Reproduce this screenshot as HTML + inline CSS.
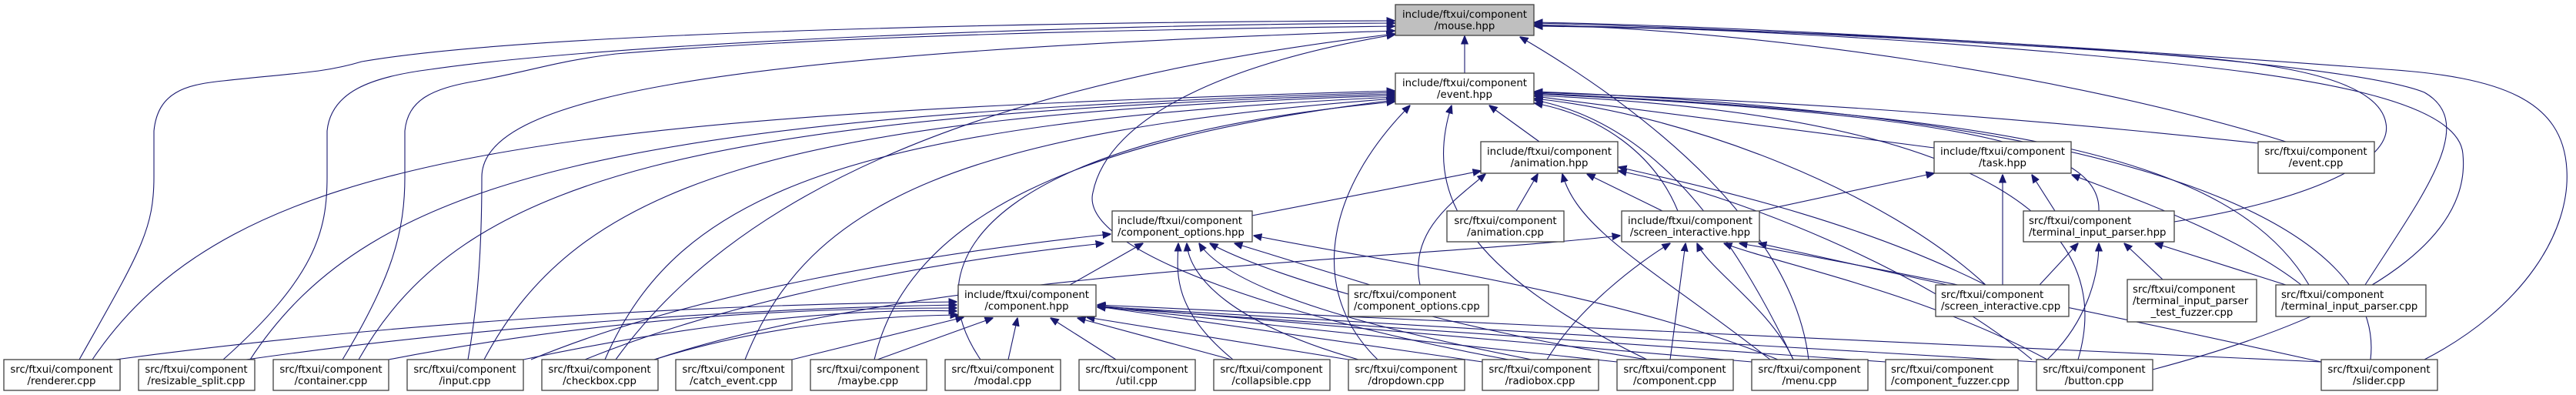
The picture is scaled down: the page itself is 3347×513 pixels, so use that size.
<!DOCTYPE html>
<html><head><meta charset="utf-8"><style>
html,body{margin:0;padding:0;background:#fff;}
svg{display:block;}
text{font-family:"DejaVu Sans","Liberation Sans",sans-serif;font-size:13.3px;fill:#000;}
.b{fill:#fff;stroke:#404040;stroke-width:1.3;}
.e path{fill:none;stroke:#191970;stroke-width:1.1;}
</style></head><body>
<svg width="3347" height="513" viewBox="0 0 3347 513" xmlns="http://www.w3.org/2000/svg">
<defs><marker id="a" viewBox="0 0 10 10" refX="9.5" refY="5" markerWidth="11" markerHeight="11" markerUnits="userSpaceOnUse" orient="auto"><path d="M0,1 L10,5 L0,9z" fill="#191970" stroke="#191970"/></marker></defs>
<g class="e" marker-end="url(#a)">
<!-- to mouse -->
<path marker-end="url(#a)" d="M1903,95 L1903,47"/>
<path marker-end="url(#a)" d="M103,467 C180,330 200,300 200,230 L200,170 C205,120 240,110 290,105 C380,95 420,95 470,80 C700,40 1400,28 1812,27"/>
<path marker-end="url(#a)" d="M290,467 C410,360 425,300 425,230 L425,170 C430,120 480,100 560,90 C800,55 1400,32 1812,30"/>
<path marker-end="url(#a)" d="M445,467 C510,360 526,300 526,230 L526,170 C530,130 560,115 620,105 C700,90 720,80 800,70 C1100,45 1500,38 1812,34"/>
<path marker-end="url(#a)" d="M608,467 C620,400 626,330 626,230 C626,130 900,70 1812,40"/>
<path marker-end="url(#a)" d="M800,467 C950,260 1250,110 1812,44"/>
<path marker-end="url(#a)" d="M1960,467 C1700,420 1400,330 1420,250 C1440,150 1600,80 1812,45"/>
<path marker-end="url(#a)" d="M2970,184 C2700,100 2300,40 1994,32"/>
<path marker-end="url(#a)" d="M2825,288 C3000,260 3110,210 3100,160 C3090,100 2950,80 2800,70 C2500,50 2200,35 1994,30"/>
<path marker-end="url(#a)" d="M3073,370 C3150,250 3220,160 3150,120 C3050,80 2500,40 1994,34"/>
<path marker-end="url(#a)" d="M3150,467 C3280,400 3340,300 3335,220 C3330,130 3250,100 3100,90 C2700,60 2300,35 1994,29"/>
<path marker-end="url(#a)" d="M2797,480 C3100,400 3210,300 3200,200 C3195,130 3000,100 2800,80 C2500,50 2200,35 1994,33"/>
<path marker-end="url(#a)" d="M2350,467 C2330,300 2150,150 1975,48"/>
<!-- to event -->
<path marker-end="url(#a)" d="M120,467 C300,200 700,150 1812,118"/>
<path marker-end="url(#a)" d="M325,467 C480,230 800,150 1812,120"/>
<path marker-end="url(#a)" d="M466,467 C600,230 900,150 1812,122"/>
<path marker-end="url(#a)" d="M629,467 C750,240 1000,150 1812,124"/>
<path marker-end="url(#a)" d="M786,467 C880,250 1100,160 1812,126"/>
<path marker-end="url(#a)" d="M968,467 C1050,260 1250,170 1812,128"/>
<path marker-end="url(#a)" d="M1136,467 C1180,280 1400,180 1812,130"/>
<path marker-end="url(#a)" d="M1274,467 C1180,330 1300,180 1812,132"/>
<path marker-end="url(#a)" d="M1790,467 C1700,380 1720,250 1832,137"/>
<path marker-end="url(#a)" d="M2140,467 C1900,350 1850,250 1886,137"/>
<path marker-end="url(#a)" d="M2000,184 L1935,137"/>
<path marker-end="url(#a)" d="M2513,192 L1994,125"/>
<path marker-end="url(#a)" d="M2934,186 C2600,150 2300,130 1994,120"/>
<path marker-end="url(#a)" d="M2180,274 C2150,200 2080,150 1994,134"/>
<path marker-end="url(#a)" d="M2727,274 C2730,200 2600,150 1994,122"/>
<path marker-end="url(#a)" d="M2580,370 C2450,250 2200,150 1994,128"/>
<path marker-end="url(#a)" d="M3000,370 C2900,200 2600,150 1994,121"/>
<path marker-end="url(#a)" d="M2700,467 C2750,300 2600,150 1994,124"/>
<path marker-end="url(#a)" d="M3080,467 C3100,300 2800,150 1994,119"/>
<path marker-end="url(#a)" d="M2330,467 C2250,300 2150,160 1994,130"/>
<!-- to animation -->
<path marker-end="url(#a)" d="M1627,280 L1924,222"/>
<path marker-end="url(#a)" d="M1970,274 L1998,226"/>
<path marker-end="url(#a)" d="M2160,274 L2062,226"/>
<path marker-end="url(#a)" d="M1845,370 C1830,300 1890,260 1930,226"/>
<path marker-end="url(#a)" d="M2300,467 C2150,350 2050,300 2030,226"/>
<path marker-end="url(#a)" d="M2580,370 C2400,280 2200,240 2103,217"/>
<path marker-end="url(#a)" d="M2640,467 C2500,350 2250,250 2103,222"/>
<!-- to component_options -->
<path marker-end="url(#a)" d="M1390,370 L1485,316"/>
<path marker-end="url(#a)" d="M690,467 C900,380 1200,330 1443,304"/>
<path marker-end="url(#a)" d="M760,467 C1000,370 1300,330 1434,316"/>
<path marker-end="url(#a)" d="M1602,467 C1520,400 1530,350 1531,316"/>
<path marker-end="url(#a)" d="M1765,467 C1600,420 1545,360 1542,316"/>
<path marker-end="url(#a)" d="M1990,467 C1800,430 1600,380 1558,316"/>
<path marker-end="url(#a)" d="M2140,467 C1900,430 1650,360 1572,316"/>
<path marker-end="url(#a)" d="M1780,370 L1604,316"/>
<path marker-end="url(#a)" d="M2310,467 C2100,380 1800,340 1629,306"/>
<!-- to component.hpp -->
<path marker-end="url(#a)" d="M150,467 C500,420 900,395 1243,392"/>
<path marker-end="url(#a)" d="M320,467 C650,420 1000,400 1243,396"/>
<path marker-end="url(#a)" d="M505,467 C800,410 1050,400 1243,400"/>
<path marker-end="url(#a)" d="M680,467 C900,420 1100,400 1243,404"/>
<path marker-end="url(#a)" d="M850,467 C1000,420 1150,410 1245,409"/>
<path marker-end="url(#a)" d="M1029,467 L1252,412"/>
<path marker-end="url(#a)" d="M1140,467 L1290,413"/>
<path marker-end="url(#a)" d="M1310,467 L1322,413"/>
<path marker-end="url(#a)" d="M1450,467 L1365,413"/>
<path marker-end="url(#a)" d="M1600,467 L1400,413"/>
<path marker-end="url(#a)" d="M1752,467 L1412,412"/>
<path marker-end="url(#a)" d="M1926,470 L1426,398"/>
<path marker-end="url(#a)" d="M2101,470 L1426,398"/>
<path marker-end="url(#a)" d="M2276,470 L1426,397"/>
<path marker-end="url(#a)" d="M2450,470 L1426,399"/>
<path marker-end="url(#a)" d="M2646,470 L1426,398"/>
<path marker-end="url(#a)" d="M3016,470 L1426,396"/>
<!-- to screen_interactive.hpp -->
<path marker-end="url(#a)" d="M850,467 C1200,350 1800,340 2105,306"/>
<path marker-end="url(#a)" d="M2010,467 C2050,400 2130,340 2170,316"/>
<path marker-end="url(#a)" d="M2170,467 L2190,316"/>
<path marker-end="url(#a)" d="M2330,467 C2300,400 2220,350 2205,316"/>
<path marker-end="url(#a)" d="M2660,467 C2500,380 2300,340 2240,316"/>
<path marker-end="url(#a)" d="M3016,470 C2700,400 2400,340 2260,316"/>
<path marker-end="url(#a)" d="M2530,370 L2285,316"/>
<!-- to task -->
<path marker-end="url(#a)" d="M2286,274 L2513,225"/>
<path marker-end="url(#a)" d="M2602,370 L2602,227"/>
<path marker-end="url(#a)" d="M2670,274 L2640,227"/>
<path marker-end="url(#a)" d="M2990,370 C2900,300 2750,250 2692,227"/>
<!-- to terminal_input_parser.hpp -->
<path marker-end="url(#a)" d="M2650,370 L2700,316"/>
<path marker-end="url(#a)" d="M2810,363 L2760,316"/>
<path marker-end="url(#a)" d="M2970,370 L2800,316"/>
<path marker-end="url(#a)" d="M2660,467 C2710,420 2727,360 2727,316"/>
</g>
<!-- nodes -->
<rect x="1813" y="6" width="180" height="40" fill="#bfbfbf" stroke="#404040" stroke-width="1.3"/>
<text x="1903" y="23" text-anchor="middle">include/ftxui/component</text><text x="1903" y="38" text-anchor="middle">/mouse.hpp</text>
<rect class="b" x="1813" y="95" width="180" height="40"/>
<text x="1903" y="112" text-anchor="middle">include/ftxui/component</text><text x="1903" y="127" text-anchor="middle">/event.hpp</text>
<rect class="b" x="1924" y="184" width="178" height="41"/>
<text x="2013" y="201" text-anchor="middle">include/ftxui/component</text><text x="2013" y="216" text-anchor="middle">/animation.hpp</text>
<rect class="b" x="2513" y="184" width="178" height="41"/>
<text x="2602" y="201" text-anchor="middle">include/ftxui/component</text><text x="2602" y="216" text-anchor="middle">/task.hpp</text>
<rect class="b" x="2934" y="184" width="151" height="41"/>
<text x="3009" y="201" text-anchor="middle">src/ftxui/component</text><text x="3009" y="216" text-anchor="middle">/event.cpp</text>
<rect class="b" x="1445" y="274" width="182" height="40"/>
<text x="1452" y="291">include/ftxui/component</text><text x="1452" y="306">/component_options.hpp</text>
<rect class="b" x="1880" y="274" width="152" height="40"/>
<text x="1956" y="291" text-anchor="middle">src/ftxui/component</text><text x="1956" y="306" text-anchor="middle">/animation.cpp</text>
<rect class="b" x="2107" y="274" width="179" height="40"/>
<text x="2196" y="291" text-anchor="middle">include/ftxui/component</text><text x="2196" y="306" text-anchor="middle">/screen_interactive.hpp</text>
<rect class="b" x="2629" y="274" width="196" height="40"/>
<text x="2636" y="291">src/ftxui/component</text><text x="2636" y="306">/terminal_input_parser.hpp</text>
<rect class="b" x="1245" y="370" width="179" height="41"/>
<text x="1334" y="387" text-anchor="middle">include/ftxui/component</text><text x="1334" y="402" text-anchor="middle">/component.hpp</text>
<rect class="b" x="1752" y="370" width="182" height="41"/>
<text x="1759" y="387">src/ftxui/component</text><text x="1759" y="402">/component_options.cpp</text>
<rect class="b" x="2515" y="370" width="173" height="41"/>
<text x="2522" y="387">src/ftxui/component</text><text x="2522" y="402">/screen_interactive.cpp</text>
<rect class="b" x="2764" y="363" width="168" height="55"/>
<text x="2771" y="380">src/ftxui/component</text><text x="2771" y="395">/terminal_input_parser</text><text x="2848" y="410" text-anchor="middle">_test_fuzzer.cpp</text>
<rect class="b" x="2957" y="370" width="195" height="41"/>
<text x="2964" y="387">src/ftxui/component</text><text x="2964" y="402">/terminal_input_parser.cpp</text>
<!-- bottom row -->
<g>
<rect class="b" x="5" y="467" width="151" height="40"/><text x="80" y="484" text-anchor="middle">src/ftxui/component</text><text x="80" y="499" text-anchor="middle">/renderer.cpp</text>
<rect class="b" x="180" y="467" width="151" height="40"/><text x="255" y="484" text-anchor="middle">src/ftxui/component</text><text x="255" y="499" text-anchor="middle">/resizable_split.cpp</text>
<rect class="b" x="355" y="467" width="150" height="40"/><text x="430" y="484" text-anchor="middle">src/ftxui/component</text><text x="430" y="499" text-anchor="middle">/container.cpp</text>
<rect class="b" x="529" y="467" width="151" height="40"/><text x="604" y="484" text-anchor="middle">src/ftxui/component</text><text x="604" y="499" text-anchor="middle">/input.cpp</text>
<rect class="b" x="704" y="467" width="151" height="40"/><text x="779" y="484" text-anchor="middle">src/ftxui/component</text><text x="779" y="499" text-anchor="middle">/checkbox.cpp</text>
<rect class="b" x="878" y="467" width="151" height="40"/><text x="953" y="484" text-anchor="middle">src/ftxui/component</text><text x="953" y="499" text-anchor="middle">/catch_event.cpp</text>
<rect class="b" x="1053" y="467" width="151" height="40"/><text x="1128" y="484" text-anchor="middle">src/ftxui/component</text><text x="1128" y="499" text-anchor="middle">/maybe.cpp</text>
<rect class="b" x="1228" y="467" width="150" height="40"/><text x="1303" y="484" text-anchor="middle">src/ftxui/component</text><text x="1303" y="499" text-anchor="middle">/modal.cpp</text>
<rect class="b" x="1402" y="467" width="151" height="40"/><text x="1477" y="484" text-anchor="middle">src/ftxui/component</text><text x="1477" y="499" text-anchor="middle">/util.cpp</text>
<rect class="b" x="1577" y="467" width="151" height="40"/><text x="1652" y="484" text-anchor="middle">src/ftxui/component</text><text x="1652" y="499" text-anchor="middle">/collapsible.cpp</text>
<rect class="b" x="1752" y="467" width="151" height="40"/><text x="1827" y="484" text-anchor="middle">src/ftxui/component</text><text x="1827" y="499" text-anchor="middle">/dropdown.cpp</text>
<rect class="b" x="1926" y="467" width="151" height="40"/><text x="2001" y="484" text-anchor="middle">src/ftxui/component</text><text x="2001" y="499" text-anchor="middle">/radiobox.cpp</text>
<rect class="b" x="2101" y="467" width="151" height="40"/><text x="2176" y="484" text-anchor="middle">src/ftxui/component</text><text x="2176" y="499" text-anchor="middle">/component.cpp</text>
<rect class="b" x="2276" y="467" width="151" height="40"/><text x="2351" y="484" text-anchor="middle">src/ftxui/component</text><text x="2351" y="499" text-anchor="middle">/menu.cpp</text>
<rect class="b" x="2450" y="467" width="172" height="40"/><text x="2457" y="484">src/ftxui/component</text><text x="2457" y="499">/component_fuzzer.cpp</text>
<rect class="b" x="2646" y="467" width="151" height="40"/><text x="2721" y="484" text-anchor="middle">src/ftxui/component</text><text x="2721" y="499" text-anchor="middle">/button.cpp</text>
<rect class="b" x="3016" y="467" width="151" height="40"/><text x="3091" y="484" text-anchor="middle">src/ftxui/component</text><text x="3091" y="499" text-anchor="middle">/slider.cpp</text>
</g>
</svg>
</body></html>
